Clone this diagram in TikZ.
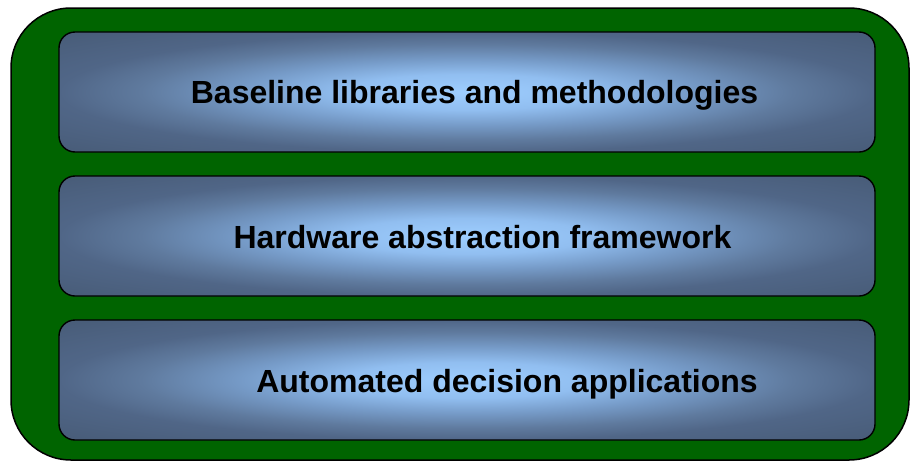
\documentclass[tikz,border=0pt]{standalone}
\usepackage{fontspec}
\setmainfont{Liberation Sans}

% colours
\definecolor{panelgreen}{RGB}{0,100,0}
\definecolor{glowA}{RGB}{158,206,255}
\definecolor{glowB}{RGB}{145,190,240}
\definecolor{glowC}{RGB}{118,155,200}
\definecolor{glowD}{RGB}{95,122,158}
\definecolor{glowE}{RGB}{80,102,135}
\definecolor{glowF}{RGB}{72,92,120}

% elliptical glow for the layer bars (25bp = edge of the bar)
\pgfdeclareradialshading{barglow}{\pgfpointorigin}{%
  color(0bp)=(glowA); color(7.5bp)=(glowB); color(13.75bp)=(glowC);
  color(20bp)=(glowD); color(25bp)=(glowE); color(35bp)=(glowF);
  color(50bp)=(glowF)}

\tikzset{
  panel/.style={draw=black, line width=1.5pt, fill=panelgreen,
    rounded corners=60pt, minimum width=898pt, minimum height=452pt,
    inner sep=0pt, outer sep=0pt},
  layerbar/.style={draw=black, line width=1.4pt, shading=barglow,
    rounded corners=16pt, minimum width=816pt, minimum height=120pt,
    inner sep=0pt, outer sep=0pt},
  layertext/.style={anchor=base, inner sep=0pt,
    font=\fontsize{32}{38}\selectfont\bfseries, text=black},
}

\begin{document}
\begin{tikzpicture}[x=1pt,y=-1pt]
  \useasboundingbox (0,0) rectangle (911,461);

  % outer frame
  \node[panel] (frame) at (460,234) {};

  % stacked layers
  \node[layerbar] (bar1) at (467,92) {};
  \node[layerbar] (bar2) at (467,236) {};
  \node[layerbar] (bar3) at (467,380) {};

  % layer captions
  \node[layertext] (cap1) at (474.5,103) {Baseline libraries and methodologies};
  \node[layertext] (cap2) at (482.5,248) {Hardware abstraction framework};
  \node[layertext] (cap3) at (507,392) {Automated decision applications};
\end{tikzpicture}
\end{document}
